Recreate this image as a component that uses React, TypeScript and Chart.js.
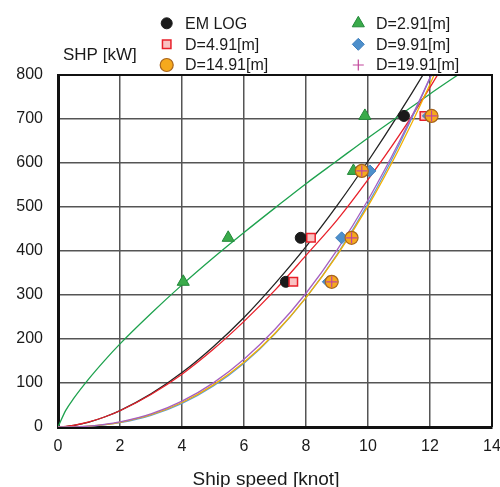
import React, { useEffect, useRef } from 'react';
import { Chart, registerables } from 'chart.js';
import { drawPoint } from 'chart.js/helpers';

Chart.register(...registerables);

// ---- Data ----
const seriesLabels = ['EM LOG', 'D=2.91[m]', 'D=4.91[m]', 'D=9.91[m]', 'D=14.91[m]', 'D=19.91[m]'];

// measured points (SHP levels, ship speed per series)
const pointPower = [330, 430, 582, 707];
const emLogSpeed = [7.35, 7.83, 9.75, 11.16];
const d291Speed = [4.04, 5.49, 9.53, 9.9];
const d491Speed = [7.59, 8.16, 9.8, 11.82];
const d991Speed = [8.72, 9.15, 10.06, 11.95];
const d1491Speed = [8.83, 9.47, 9.8, 12.05];
const d1991Speed = [8.83, 9.47, 9.8, 12.05];

// trend curves, read at these speeds
const curveSpeed = [0, 0.25, 0.5, 1, 1.5, 2, 3, 4, 5, 6, 7, 8, 9, 10, 11, 12, 13];
const curveEmLog = [0, 1.0, 3.4, 11.2, 22.7, 37.3, 75.2, 123.7, 182, 249, 326, 410, 503, 604, 712, 827, 950];
const curveD291 = [0, 37.7, 64.4, 110, 151, 189, 258, 323, 384, 442, 498, 553, 605, 657, 707, 757, 805];
const curveD491 = [0, 1.1, 3.5, 11.4, 22.7, 37, 73.8, 120, 176, 240, 311, 390, 470, 562, 662, 772, 890];
const curveD991 = [0, 0.06, 0.33, 1.8, 4.9, 9.8, 26.6, 53.7, 92.8, 145, 212, 294, 392, 507, 641, 793, 965];
const curveD1491 = [0, 0.07, 0.38, 2.0, 5.3, 10.6, 27.9, 55.7, 95.2, 147, 213, 294, 390, 502, 632, 779, 944];
const curveD1991 = [0, 0.08, 0.43, 2.2, 5.8, 11.4, 29.7, 58.8, 99.8, 154, 222, 304, 402, 516, 647, 794, 961];

const xTitle = 'Ship speed [knot]';
const yTitle = 'SHP [kW]';

const FONT = '"Liberation Sans", Arial, Helvetica, sans-serif';

const pts = (xs: number[], ys: number[]) => xs.map((x, i) => ({ x, y: ys[i] }));

const markerStyles = [
  { pointStyle: 'circle', radius: 5.5, bg: '#1a1a1a', border: '#1a1a1a', bw: 1 },
  { pointStyle: 'triangle', radius: 7, bg: '#3aab4a', border: '#23883a', bw: 1 },
  { pointStyle: 'rect', radius: 6, bg: '#f9c2c2', border: '#e8202a', bw: 1.5 },
  { pointStyle: 'rectRot', radius: 6, bg: '#4d8fcb', border: '#3f7fbd', bw: 1 },
  { pointStyle: 'circle', radius: 6.5, bg: '#f6a91d', border: '#a8641c', bw: 1.2 },
  { pointStyle: 'cross', radius: 5.5, bg: '#c2479b', border: '#c2479b', bw: 1.2 },
];

const pointSpeeds = [emLogSpeed, d291Speed, d491Speed, d991Speed, d1491Speed, d1991Speed];
const curves = [curveEmLog, curveD291, curveD491, curveD991, curveD1491, curveD1991];
const curveColors = ['#222222', '#1ea24e', '#e8202a', '#5a9ad8', '#f2b000', '#a55fc0'];

export default function App() {
  const ref = useRef<HTMLCanvasElement>(null);

  useEffect(() => {
    const scatterSets = pointSpeeds.map((sp, i) => {
      const m = markerStyles[i];
      return {
        label: seriesLabels[i],
        data: pts(sp, pointPower),
        showLine: false,
        pointStyle: m.pointStyle,
        pointRadius: m.radius,
        pointBackgroundColor: m.bg,
        pointBorderColor: m.border,
        pointBorderWidth: m.bw,
        backgroundColor: m.bg,
        borderColor: m.border,
        order: 6 - i,
      };
    });
    const lineSets = curves.map((c, i) => ({
      label: seriesLabels[i] + ' fit',
      data: pts(curveSpeed, c),
      showLine: true,
      pointRadius: 0,
      borderColor: curveColors[i],
      borderWidth: 1.3,
      cubicInterpolationMode: 'monotone',
      fill: false,
      order: 20 - i,
    }));

    const decor = {
      id: 'decor',
      afterDatasetsDraw(chart: any) {
        const { ctx, chartArea } = chart;
        ctx.save();
        ctx.strokeStyle = '#111';
        ctx.lineWidth = 2;
        ctx.beginPath();
        ctx.moveTo(chartArea.left, chartArea.top);
        ctx.lineTo(chartArea.right, chartArea.top);
        ctx.lineTo(chartArea.right, chartArea.bottom);
        ctx.stroke();
        ctx.restore();
      },
      afterDraw(chart: any) {
        const { ctx } = chart;
        ctx.save();
        ctx.fillStyle = '#1a1a1a';
        ctx.textBaseline = 'alphabetic';
        ctx.font = `17px ${FONT}`;
        ctx.textAlign = 'left';
        ctx.fillText(yTitle, 63, 59.5);
        ctx.font = `19px ${FONT}`;
        ctx.textAlign = 'center';
        ctx.fillText(xTitle, 266, 485);

        // legend (two columns, three rows)
        const colMarker = [166.7, 358.3];
        const colText = [185, 376];
        const rowY = [23.3, 44.3, 65];
        ctx.font = `16px ${FONT}`;
        ctx.textAlign = 'left';
        ctx.textBaseline = 'middle';
        for (let i = 0; i < seriesLabels.length; i++) {
          const col = i % 2;
          const row = Math.floor(i / 2);
          const m = markerStyles[i];
          ctx.save();
          ctx.fillStyle = m.bg;
          ctx.strokeStyle = m.border;
          ctx.lineWidth = m.bw;
          drawPoint(ctx, { pointStyle: m.pointStyle, radius: m.radius, rotation: 0, borderWidth: m.bw } as any, colMarker[col], rowY[row]);
          ctx.restore();
          ctx.fillStyle = '#1a1a1a';
          ctx.fillText(seriesLabels[i], colText[col], rowY[row] + 1);
        }
        ctx.restore();
      },
    };

    const chart = new Chart(ref.current as HTMLCanvasElement, {
      type: 'scatter',
      data: { datasets: [...scatterSets, ...lineSets] as any },
      options: {
        animation: false,
        responsive: false,
        devicePixelRatio: 1,
        layout: { padding: { top: 75, right: 8, left: 0, bottom: 0 } },
        plugins: { legend: { display: false }, tooltip: { enabled: false } },
        scales: {
          x: {
            type: 'linear',
            min: 0,
            max: 14,
            ticks: { stepSize: 2, color: '#1a1a1a', font: { size: 16, family: FONT }, padding: 10, maxRotation: 0, autoSkip: false },
            grid: { color: '#555', lineWidth: 1.5, drawTicks: false },
            border: { display: true, color: '#111', width: 3 },
            afterFit: (s: any) => {
              s.height = 60;
              s.paddingLeft = 0;
              s.paddingRight = 0;
            },
          },
          y: {
            type: 'linear',
            min: 0,
            max: 800,
            ticks: { stepSize: 100, color: '#1a1a1a', font: { size: 16, family: FONT }, padding: 15 },
            grid: { color: '#555', lineWidth: 1.5, drawTicks: false },
            border: { display: true, color: '#111', width: 3 },
            afterFit: (s: any) => {
              s.width = 58;
              s.paddingTop = 0;
              s.paddingBottom = 0;
            },
          },
        },
      } as any,
      plugins: [decor],
    });
    return () => chart.destroy();
  }, []);

  return (
    <div style={{ position: 'fixed', left: 0, top: 0, width: 500, height: 487, background: '#fff' }}>
      <canvas ref={ref} width={500} height={487} style={{ display: 'block', width: 500, height: 487 }} />
    </div>
  );
}
